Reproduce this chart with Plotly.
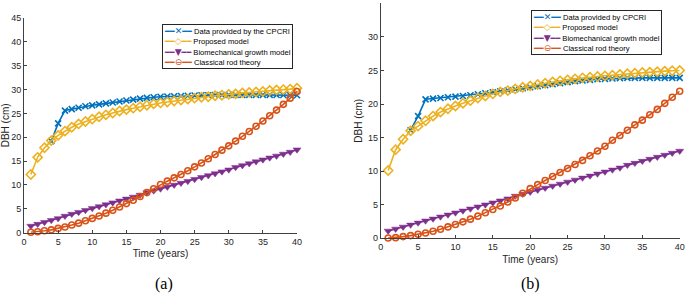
import plotly.graph_objects as go

years = list(range(1, 41))
years_data = list(range(4, 41))

# ---- Panel (a) ----
a_cpcri = [19.2, 22.9, 25.6, 25.9, 26.2, 26.5, 26.7, 26.9, 27.1, 27.3, 27.5, 27.7, 27.9, 28.1,
           28.25, 28.4, 28.5, 28.55, 28.6, 28.65, 28.7, 28.75, 28.8, 28.8, 28.85, 28.85, 28.9,
           28.9, 28.9, 28.9, 28.9, 28.9, 28.9, 28.85, 28.85, 28.8, 28.8]
a_proposed = [12.2, 15.8, 17.8, 19.3, 20.4, 21.3, 22.1, 22.8, 23.3, 23.8, 24.3, 24.7, 25.1, 25.5,
              25.8, 26.1, 26.4, 26.7, 27.0, 27.2, 27.4, 27.6, 27.8, 28.0, 28.2, 28.4, 28.5, 28.7,
              28.8, 29.0, 29.1, 29.3, 29.4, 29.5, 29.6, 29.8, 29.9, 30.0, 30.1, 30.3]
a_biomech = [1.4, 1.8, 2.2, 2.6, 3.0, 3.5, 3.9, 4.3, 4.7, 5.1, 5.5, 5.9, 6.3, 6.7, 7.1, 7.5, 7.9,
             8.4, 8.8, 9.2, 9.6, 10.0, 10.4, 10.8, 11.2, 11.6, 12.0, 12.4, 12.8, 13.2, 13.7, 14.1,
             14.5, 14.9, 15.3, 15.7, 16.1, 16.5, 16.9, 17.4]
a_rod = [0.1, 0.2, 0.4, 0.6, 0.9, 1.2, 1.6, 2.0, 2.5, 3.0, 3.5, 4.1, 4.7, 5.4, 6.1, 6.8, 7.6, 8.4,
         9.2, 10.1, 10.8, 11.5, 12.2, 13.0, 13.8, 14.6, 15.5, 16.4, 17.3, 18.2, 19.2, 20.2, 21.2,
         22.3, 23.4, 24.5, 25.7, 26.9, 28.2, 29.6]

# ---- Panel (b) ----
b_cpcri = [16.1, 18.2, 20.7, 20.8, 20.9, 21.0, 21.1, 21.2, 21.3, 21.45, 21.6, 21.75, 21.9, 22.05,
           22.2, 22.35, 22.5, 22.65, 22.8, 22.95, 23.1, 23.25, 23.4, 23.5, 23.6, 23.7, 23.75,
           23.8, 23.85, 23.9, 23.9, 23.9, 23.9, 23.9, 23.9, 23.9, 23.9]
b_proposed = [10.1, 13.2, 14.75, 16.0, 16.7, 17.5, 18.2, 18.8, 19.3, 19.7, 20.1, 20.5, 20.9, 21.2,
              21.5, 21.8, 22.0, 22.25, 22.5, 22.7, 22.9, 23.1, 23.3, 23.45, 23.6, 23.75, 23.9,
              24.0, 24.1, 24.2, 24.3, 24.4, 24.5, 24.6, 24.7, 24.75, 24.8, 24.9, 24.95, 25.0]
b_biomech = [1.1, 1.4, 1.7, 2.0, 2.3, 2.6, 2.9, 3.2, 3.5, 3.8, 4.1, 4.4, 4.7, 5.0, 5.3, 5.6, 5.9,
             6.3, 6.6, 6.9, 7.2, 7.5, 7.8, 8.1, 8.4, 8.7, 9.0, 9.3, 9.6, 9.9, 10.2, 10.5, 10.9,
             11.2, 11.5, 11.8, 12.1, 12.4, 12.7, 13.0]
b_rod = [0.05, 0.1, 0.25, 0.4, 0.6, 0.8, 1.05, 1.35, 1.7, 2.05, 2.45, 2.85, 3.3, 3.8, 4.3, 4.8,
         5.4, 6.0, 6.7, 7.4, 8.0, 8.6, 9.2, 9.8, 10.4, 11.0, 11.6, 12.3, 13.0, 13.7, 14.6, 15.3,
         16.1, 16.9, 17.6, 18.4, 19.2, 20.1, 21.0, 21.9]

x_ticks = [0, 5, 10, 15, 20, 25, 30, 35, 40]
a_yticks = [0, 5, 10, 15, 20, 25, 30, 35, 40, 45]
b_yticks = [0, 5, 10, 15, 20, 25, 30, 35]

a_names = ["Data provided by the CPCRI", "Proposed model", "Biomechanical growth model", "Classical rod theory"]
b_names = ["Data provided by CPCRI", "Proposed model", "Biomechanical growth model", "Classical rod theory"]

COLORS = ["#0072BD", "#EDB120", "#7E2F8E", "#D95319"]
SYMBOLS = ["x-thin", "diamond-open", "triangle-down", "circle-open"]
GLYPHS = ["\u2715", "\u25C7", "\u25BC", "\u2296"]
W, H = 685, 293

fig = go.Figure()


def add_panel(xa, ya, names, cpcri, proposed, biomech, rod):
    series = [(years_data, cpcri), (years, proposed), (years, biomech), (years, rod)]
    sizes = [6, 7, 7, 6]
    for (xs, ys), name, col, sym, sz in zip(series, names, COLORS, SYMBOLS, sizes):
        lw = 0.5 if sym == "triangle-down" else 1.6
        fig.add_trace(go.Scatter(
            x=xs, y=ys, name=name, xaxis=xa, yaxis=ya, mode="lines+markers",
            cliponaxis=False, showlegend=False,
            line=dict(color=col, width=1.6),
            marker=dict(symbol=sym, size=sz, color=col, line=dict(color=col, width=lw))))


add_panel("x", "y", a_names, a_cpcri, a_proposed, a_biomech, a_rod)
add_panel("x2", "y2", b_names, b_cpcri, b_proposed, b_biomech, b_rod)


def legend_text(names):
    rows = []
    for name, col, g in zip(names, COLORS, GLYPHS):
        rows.append(
            f'<span style="color:{col};font-family:DejaVu Sans">\u2501\u2501'
            f'<span style="font-size:9px">{g}</span>\u2501\u2501</span>'
            f'<span style="font-size:7.6px"> {name}</span>')
    return "<br>".join(rows)


SANS = "Liberation Sans, Arial, sans-serif"
SERIF = "Liberation Serif, Times New Roman, serif"
tickfont = dict(family=SANS, size=9, color="#262626")
titlefont = dict(family=SANS, size=10, color="#262626")
ax_common = dict(showgrid=False, zeroline=False, showline=True, linecolor="#404040", linewidth=1,
                 ticks="inside", ticklen=3, tickwidth=1, tickcolor="#404040",
                 tickfont=tickfont, automargin=False, fixedrange=True)

fig.update_layout(
    width=W, height=H,
    margin=dict(l=0, r=0, t=0, b=0),
    paper_bgcolor="white", plot_bgcolor="white",
    showlegend=False,
    xaxis=dict(domain=[24 / W, 297 / W], range=[0, 40], tickvals=x_ticks, anchor="y",
               title=dict(text="Time (years)", font=titlefont, standoff=4), **ax_common),
    yaxis=dict(domain=[1 - 232.7 / H, 1 - 18 / H], range=[0, 45], tickvals=a_yticks, anchor="x",
               title=dict(text="DBH (cm)", font=titlefont, standoff=3), **ax_common),
    xaxis2=dict(domain=[380.7 / W, 679.7 / W], range=[0, 40], tickvals=x_ticks, anchor="y2",
                title=dict(text="Time (years)", font=titlefont, standoff=4), **ax_common),
    yaxis2=dict(domain=[1 - 238.3 / H, 1 - 3.3 / H], range=[0, 35], tickvals=b_yticks, anchor="x2",
                title=dict(text="DBH (cm)", font=titlefont, standoff=3), **ax_common),
    annotations=[
        dict(text=legend_text(a_names), x=161.7 / W, y=1 - 24 / H, xref="paper", yref="paper",
             xanchor="left", yanchor="top", align="left", showarrow=False,
             bgcolor="white", bordercolor="#262626", borderwidth=1, borderpad=1,
             font=dict(family=SANS, size=8, color="#000")),
        dict(text=legend_text(b_names), x=530.7 / W, y=1 - 10.3 / H, xref="paper", yref="paper",
             xanchor="left", yanchor="top", align="left", showarrow=False,
             bgcolor="white", bordercolor="#262626", borderwidth=1, borderpad=1,
             font=dict(family=SANS, size=8, color="#000")),
        dict(text="(a)", x=163.5 / W, y=1 - 283.5 / H, xref="paper", yref="paper",
             xanchor="center", yanchor="middle", showarrow=False,
             font=dict(family=SERIF, size=16, color="#000")),
        dict(text="(b)", x=530 / W, y=1 - 283.5 / H, xref="paper", yref="paper",
             xanchor="center", yanchor="middle", showarrow=False,
             font=dict(family=SERIF, size=16, color="#000")),
    ],
)

fig.write_html("out.html",
               config={"displayModeBar": False},
               post_script="document.body.style.margin='0';document.body.style.overflow='hidden';")
